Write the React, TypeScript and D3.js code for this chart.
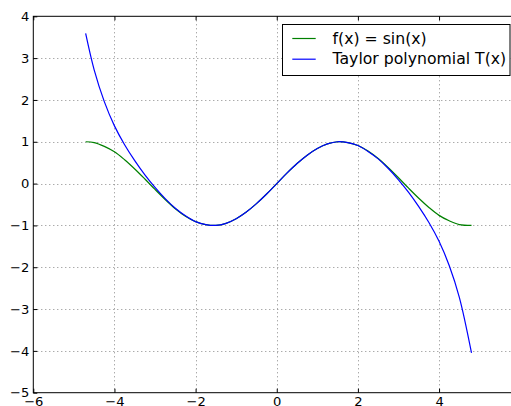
import { useEffect, useRef } from 'react'
import * as d3 from 'd3'

// ─── Data ────────────────────────────────────────────────────────────────────

const xValues = [
  -4.71, -4.5, -4.25, -4.0, -3.75, -3.5, -3.25, -3.0, -2.75, -2.5, -2.25, -2.0,
  -1.75, -1.5, -1.25, -1.0, -0.75, -0.5, -0.25, 0, 0.25, 0.5, 0.75, 1.0, 1.25,
  1.5, 1.75, 2.0, 2.25, 2.5, 2.75, 3.0, 3.25, 3.5, 3.75, 4.0, 4.25, 4.5, 4.8,
]

const sinValues = [
  1.0, 0.98, 0.89, 0.76, 0.57, 0.35, 0.11, -0.14, -0.38, -0.6, -0.78, -0.91,
  -0.98, -1.0, -0.95, -0.84, -0.68, -0.48, -0.25, 0, 0.25, 0.48, 0.68, 0.84, 0.95,
  1.0, 0.98, 0.91, 0.78, 0.6, 0.38, 0.14, -0.11, -0.35, -0.57, -0.76, -0.89, -0.98, -1.0,
]

const taylorValues = [
  3.59, 2.72, 1.96, 1.38, 0.93, 0.55, 0.21, -0.09, -0.36, -0.59, -0.77, -0.91,
  -0.98, -1.0, -0.95, -0.84, -0.68, -0.48, -0.25, 0, 0.25, 0.48, 0.68, 0.84, 0.95,
  1.0, 0.98, 0.91, 0.77, 0.59, 0.36, 0.09, -0.21, -0.55, -0.93, -1.38, -1.96, -2.72, -4.05,
]

const xTicks = [-6, -4, -2, 0, 2, 4, 6]
const yTicks = [-5, -4, -3, -2, -1, 0, 1, 2, 3, 4]

const seriesNames = ['f(x) = sin(x)', 'Taylor polynomial T(x)']
const seriesColors = ['#008000', '#0000ff']

const FONT = '"DejaVu Sans", sans-serif'

export default function App() {
  const ref = useRef<SVGSVGElement>(null)

  useEffect(() => {
    if (!ref.current) return
    const W = 511
    const H = 406
    const svg = d3.select(ref.current)
    svg.selectAll('*').remove()
    svg.attr('width', W).attr('height', H).style('font-family', FONT)

    // axes box (right side runs past the window, as in the reference)
    const left = 33.3
    const right = 520.2
    const top = 16.3
    const bottom = 392.7

    const x = d3.scaleLinear().domain([-6, 6]).range([left, right])
    const y = d3.scaleLinear().domain([-5, 4]).range([bottom, top])

    svg.append('rect').attr('x', 0).attr('y', 0).attr('width', W).attr('height', H).attr('fill', '#fff')

    // grid
    const grid = svg.append('g')
    grid.selectAll('.gx')
      .data(xTicks.slice(1, -1))
      .join('line')
      .attr('x1', (d) => Math.round(x(d)) + 0.5)
      .attr('x2', (d) => Math.round(x(d)) + 0.5)
      .attr('y1', top)
      .attr('y2', bottom)
    grid.selectAll('.gy')
      .data(yTicks.slice(1, -1))
      .join('line')
      .attr('x1', left)
      .attr('x2', right)
      .attr('y1', (d) => Math.round(y(d)) + 0.5)
      .attr('y2', (d) => Math.round(y(d)) + 0.5)
    grid.selectAll('line')
      .attr('stroke', '#888')
      .attr('stroke-width', 1)
      .attr('stroke-dasharray', '1,3')

    // curves
    const pts = (vals: number[]) => xValues.map((xv, i) => [xv, vals[i]] as [number, number])
    const line = d3.line<[number, number]>()
      .x((d) => x(d[0]))
      .y((d) => y(d[1]))
      .curve(d3.curveCatmullRom.alpha(0.5))

    ;[sinValues, taylorValues].forEach((vals, i) => {
      svg.append('path')
        .attr('d', line(pts(vals)))
        .attr('fill', 'none')
        .attr('stroke', seriesColors[i])
        .attr('stroke-width', 1.2)
    })

    // axes with inward ticks
    const styleAxis = (sel: d3.Selection<SVGGElement, unknown, null, undefined>) => {
      sel.select('.domain').remove()
      sel.selectAll('line').attr('stroke', '#000')
      sel.selectAll('text')
        .attr('font-size', 13.1)
        .attr('font-family', FONT)
        .attr('fill', '#000')
    }

    svg.append('g')
      .attr('transform', `translate(0,${bottom})`)
      .call(d3.axisBottom(x).tickValues(xTicks).tickSize(-4).tickPadding(4).tickFormat(d3.format('d')))
      .call(styleAxis)
    svg.append('g')
      .attr('transform', `translate(0,${top})`)
      .call(d3.axisTop(x).tickValues(xTicks).tickSize(-4).tickFormat(() => ''))
      .call(styleAxis)
    svg.append('g')
      .attr('transform', `translate(${left},0)`)
      .call(d3.axisLeft(y).tickValues(yTicks).tickSize(-4).tickPadding(4).tickFormat(d3.format('d')))
      .call(styleAxis)
    svg.append('g')
      .attr('transform', `translate(${right},0)`)
      .call(d3.axisRight(y).tickValues(yTicks).tickSize(-4).tickFormat(() => ''))
      .call(styleAxis)

    // spines
    svg.append('rect')
      .attr('x', left)
      .attr('y', top)
      .attr('width', right - left)
      .attr('height', bottom - top)
      .attr('fill', 'none')
      .attr('stroke', '#000')
      .attr('stroke-width', 1)

    // legend
    const lg = svg.append('g')
    lg.append('rect')
      .attr('x', 282.5)
      .attr('y', 24.5)
      .attr('width', 227.5)
      .attr('height', 51)
      .attr('fill', '#fff')
      .attr('stroke', '#000')
      .attr('stroke-width', 1)
    seriesNames.forEach((name, i) => {
      const cy = 38.5 + i * 20.7
      lg.append('line')
        .attr('x1', 292.3)
        .attr('x2', 315.7)
        .attr('y1', cy)
        .attr('y2', cy)
        .attr('stroke', seriesColors[i])
        .attr('stroke-width', 1.2)
      lg.append('text')
        .attr('x', 332.5)
        .attr('y', cy + 5.2)
        .attr('font-size', 15.7)
        .attr('fill', '#000')
        .text(name)
    })
  }, [])

  return <svg ref={ref} style={{ position: 'absolute', left: 0, top: 0, display: 'block' }} />
}
